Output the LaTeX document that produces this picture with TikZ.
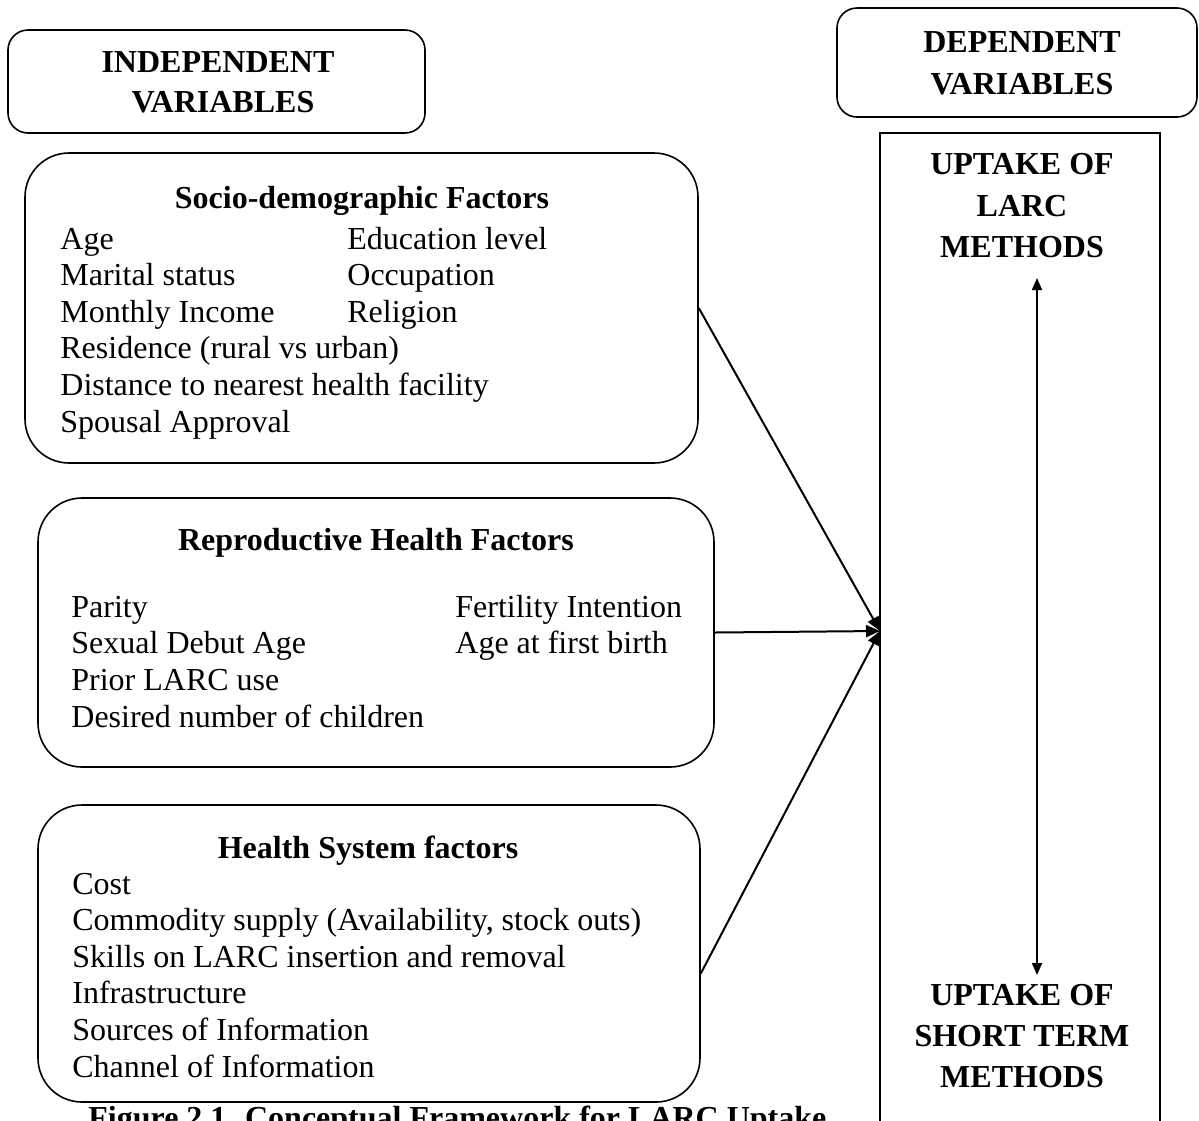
\documentclass[tikz,border=0pt]{standalone}
\usepackage{fontspec}
\setmainfont{Liberation Serif}
\usetikzlibrary{arrows.meta}

\begin{document}
\begin{tikzpicture}[x = 0.5pt, y = -0.5pt,
        every node/.style = {inner sep = 0pt, font = \fontsize{16}{18}\selectfont},
        item/.style = {anchor = base west},
        heading/.style = {anchor = base, font = \fontsize{16}{18}\selectfont\bfseries},
        titlebox/.style = {draw, line width = 0.8pt, rounded corners = 10pt},
        factorbox/.style = {draw, line width = 0.8pt, rounded corners = 22pt},
        flow/.style = {line width = 1pt, -{Triangle[length = 7pt, width = 6pt]}},
        both/.style = {line width = 0.9pt, {Triangle[length = 6pt, width = 5pt]}-{Triangle[length = 6pt, width = 5pt]}}]
    \useasboundingbox (0, 0) rectangle (1199, 1120);
    \clip (0, 0) rectangle (1199, 1120);
    % headers
    \node[titlebox, minimum width = 208.5pt, minimum height = 51.5pt] (indep) at (216.5, 81.5) {};
        \node[heading] (indep1) at (218, 72) {INDEPENDENT};
        \node[heading] (indep2) at (223, 112) {VARIABLES};
    \node[titlebox, minimum width = 180pt, minimum height = 54.5pt] (dep) at (1017, 62.5) {};
        \node[heading] (dep1) at (1022, 52) {DEPENDENT};
        \node[heading] (dep2) at (1022, 94) {VARIABLES};
    % outcome column
    \node[draw, line width = 0.8pt, minimum width = 140pt, minimum height = 500pt] (uptake) at (1020, 633) {};
        \node[heading] (larc1) at (1022, 174) {UPTAKE OF};
        \node[heading] (larc2) at (1022, 216) {LARC};
        \node[heading] (larc3) at (1022, 257) {METHODS};
        \node[heading] (short1) at (1022, 1005) {UPTAKE OF};
        \node[heading] (short2) at (1022, 1046) {SHORT TERM};
        \node[heading] (short3) at (1022, 1087) {METHODS};
    % factor groups
    \node[factorbox, minimum width = 336.5pt, minimum height = 155pt] (socio) at (361.5, 308) {};
        \node[heading] (sociohead) at (362, 208) {Socio-demographic Factors};
        \foreach \txt [count = \i] in {Age, Marital status, Monthly Income, Residence (rural vs urban), Distance to nearest health facility, Spousal Approval}
            \node[item] (socioA\i) at (60, 212.4 + 36.6*\i) {\txt};
        \foreach \txt [count = \i] in {Education level, Occupation, Religion}
            \node[item] (socioB\i) at (347, 212.4 + 36.6*\i) {\txt};
    \node[factorbox, minimum width = 338pt, minimum height = 134.5pt] (repro) at (376, 632.5) {};
        \node[heading] (reprohead) at (376, 550) {Reproductive Health Factors};
        \foreach \txt [count = \i] in {Parity, Sexual Debut Age, Prior LARC use, Desired number of children}
            \node[item] (reproA\i) at (71, 580.3 + 36.7*\i) {\txt};
        \foreach \txt [count = \i] in {Fertility Intention, Age at first birth}
            \node[item] (reproB\i) at (455, 580.3 + 36.7*\i) {\txt};
    \node[factorbox, minimum width = 331pt, minimum height = 148.5pt] (health) at (369, 953.5) {};
        \node[heading] (healthhead) at (368, 858) {Health System factors};
        \foreach \txt [count = \i] in {Cost, {Commodity supply (Availability, stock outs)}, Skills on LARC insertion and removal, Infrastructure, Sources of Information, Channel of Information}
            \node[item] (healthA\i) at (72, 857.4 + 36.6*\i) {\txt};
    \node[heading, anchor = base west] (caption) at (88, 1128) {Figure 2.1. Conceptual Framework for LARC Uptake};
    % connectors
    \coordinate (conv) at (880, 631);
    \coordinate (tiptop) at (1037, 278);
    \coordinate (tipbottom) at (1037, 975);
    \draw[flow] (socio.east) -- (conv);
    \draw[flow] (repro.east) -- (conv);
    \draw[flow] ([yshift = -10pt]health.east) -- (conv);
    \draw[both] (tiptop) -- (tipbottom);
\end{tikzpicture}
\end{document}
